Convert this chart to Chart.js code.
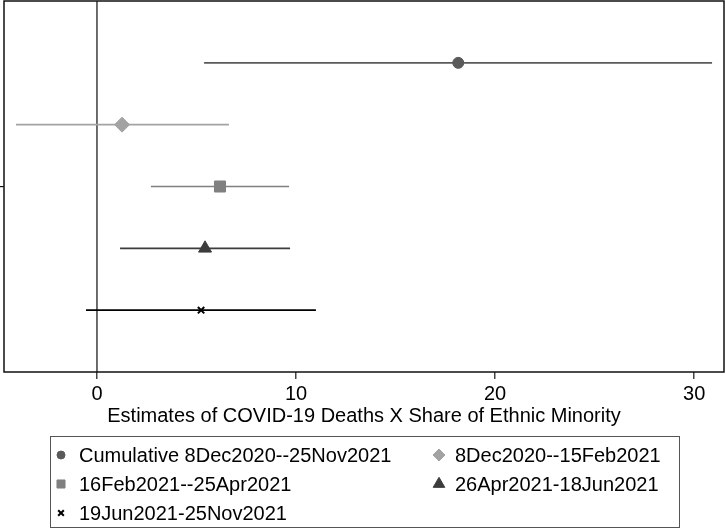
<!DOCTYPE html>
<html>
<head>
<meta charset="utf-8">
<script src="https://cdn.jsdelivr.net/npm/chart.js@4"></script>
<style>
	body { margin: 0; background: #fff; }
	#wrap { width: 725px; height: 529px; }
</style>
</head>
<body>
<div id="wrap"><canvas id="coefPlot"></canvas></div>
<script>
let periods   = ['Cumulative 8Dec2020--25Nov2021', '8Dec2020--15Feb2021', '16Feb2021--25Apr2021', '26Apr2021-18Jun2021', '19Jun2021-25Nov2021'];
let estimates = [18.15, 1.26, 6.18, 5.43, 5.23];
let lowerCI   = [5.38, -4.07, 2.71, 1.16, -0.55];
let upperCI   = [30.9, 6.63, 9.65, 9.7, 11.0];
let xTicks    = [0, 10, 20, 30];
let yTicks    = [3];
let xTitle    = 'Estimates of COVID-19 Deaths X Share of Ethnic Minority';

let colors  = ['#5a5a5a', '#a3a3a3', '#808080', '#3c3c3c', '#000000'];
let markers = [
	{ style: 'circle',   radius: 5.5, legend: 4,   width: 1 },
	{ style: 'rectRot',  radius: 7.5, legend: 6,   width: 1 },
	{ style: 'rect',     radius: 7.8, legend: 5.7, width: 1 },
	{ style: 'triangle', radius: 7.5, legend: 6.7, width: 1 },
	{ style: 'crossRot', radius: 4.5, legend: 4,   width: 2 }
];
let font = "'Liberation Sans', Arial, Helvetica, sans-serif";

let datasets = [];
// zero reference line
datasets.push({
	type        : 'line',
	label       : 'zero',
	data        : [{ x: 0, y: 0 }, { x: 0, y: 6 }],
	borderColor : '#4a4a4a',
	borderWidth : 1.6,
	pointRadius : 0,
	order       : 3
});
periods.forEach(function(p, i) {
	datasets.push({
		type        : 'line',
		label       : p + ' CI',
		data        : [{ x: lowerCI[i], y: i + 1 }, { x: upperCI[i], y: i + 1 }],
		borderColor : colors[i],
		borderWidth : 1.6,
		pointRadius : 0,
		order       : 2
	});
	datasets.push({
		type             : 'scatter',
		label            : p,
		data             : [{ x: estimates[i], y: i + 1 }],
		pointStyle       : markers[i].style,
		pointRadius      : markers[i].radius,
		backgroundColor  : colors[i],
		borderColor      : colors[i],
		borderWidth      : markers[i].width,
		order            : 1
	});
});

let frame = {
	id : 'frame',
	afterDatasetsDraw : function(chart) {
		let a = chart.chartArea, ctx = chart.ctx;
		ctx.save();
		ctx.strokeStyle = '#111';
		ctx.lineWidth = 1.5;
		ctx.strokeRect(a.left, a.top, a.right - a.left, a.bottom - a.top);
		ctx.restore();
	}
};

let boxLegend = {
	id : 'boxLegend',
	afterDraw : function(chart) {
		let ctx = chart.ctx;
		ctx.save();
		ctx.strokeStyle = '#555';
		ctx.lineWidth = 1;
		ctx.strokeRect(50.5, 436.5, 629, 91);
		ctx.font = '20px ' + font;
		ctx.textBaseline = 'middle';
		let cols = [61, 439], texts = [79, 455], rows = [455, 484, 513];
		periods.forEach(function(p, i) {
			let c = i % 2, y = rows[Math.floor(i / 2)];
			let m = markers[i];
			ctx.fillStyle = colors[i];
			ctx.strokeStyle = colors[i];
			ctx.lineWidth = m.width;
			Chart.helpers.drawPoint(ctx, { pointStyle: m.style, radius: m.legend, borderWidth: m.width }, cols[c], y);
			ctx.fillStyle = '#000';
			ctx.fillText(p, texts[c], y + 1);
		});
		ctx.restore();
	}
};

new Chart(document.getElementById('coefPlot').getContext('2d'), {
	data    : { datasets: datasets },
	plugins : [frame, boxLegend],
	options : {
		responsive          : true,
		maintainAspectRatio : false,
		animation           : false,
		layout  : { autoPadding: false, padding: { left: 0, top: 1, right: 1, bottom: 103 } },
		plugins : { legend: { display: false }, tooltip: { enabled: false } },
		scales  : {
			x : {
				type : 'linear',
				min  : -4.67,
				max  : 31.5,
				afterBuildTicks : function(axis) { axis.ticks = xTicks.map(function(v) { return { value: v }; }); },
				grid   : { drawOnChartArea: false, tickLength: 7, color: '#444', lineWidth: 1.5 },
				border : { display: false },
				ticks  : { color: '#000', padding: 5, font: { family: font, size: 20, lineHeight: 1 }, maxRotation: 0 },
				title  : { display: true, text: xTitle, color: '#000', padding: { top: -3, bottom: 0 }, font: { family: font, size: 20, lineHeight: 1 } }
			},
			y : {
				type    : 'linear',
				reverse : true,
				min     : 0,
				max     : 6,
				afterBuildTicks : function(axis) { axis.ticks = yTicks.map(function(v) { return { value: v }; }); },
				grid   : { drawOnChartArea: false, tickLength: 4, color: '#111', lineWidth: 1.2 },
				border : { display: false },
				ticks  : { display: false }
			}
		}
	}
});
</script>
</body>
</html>
